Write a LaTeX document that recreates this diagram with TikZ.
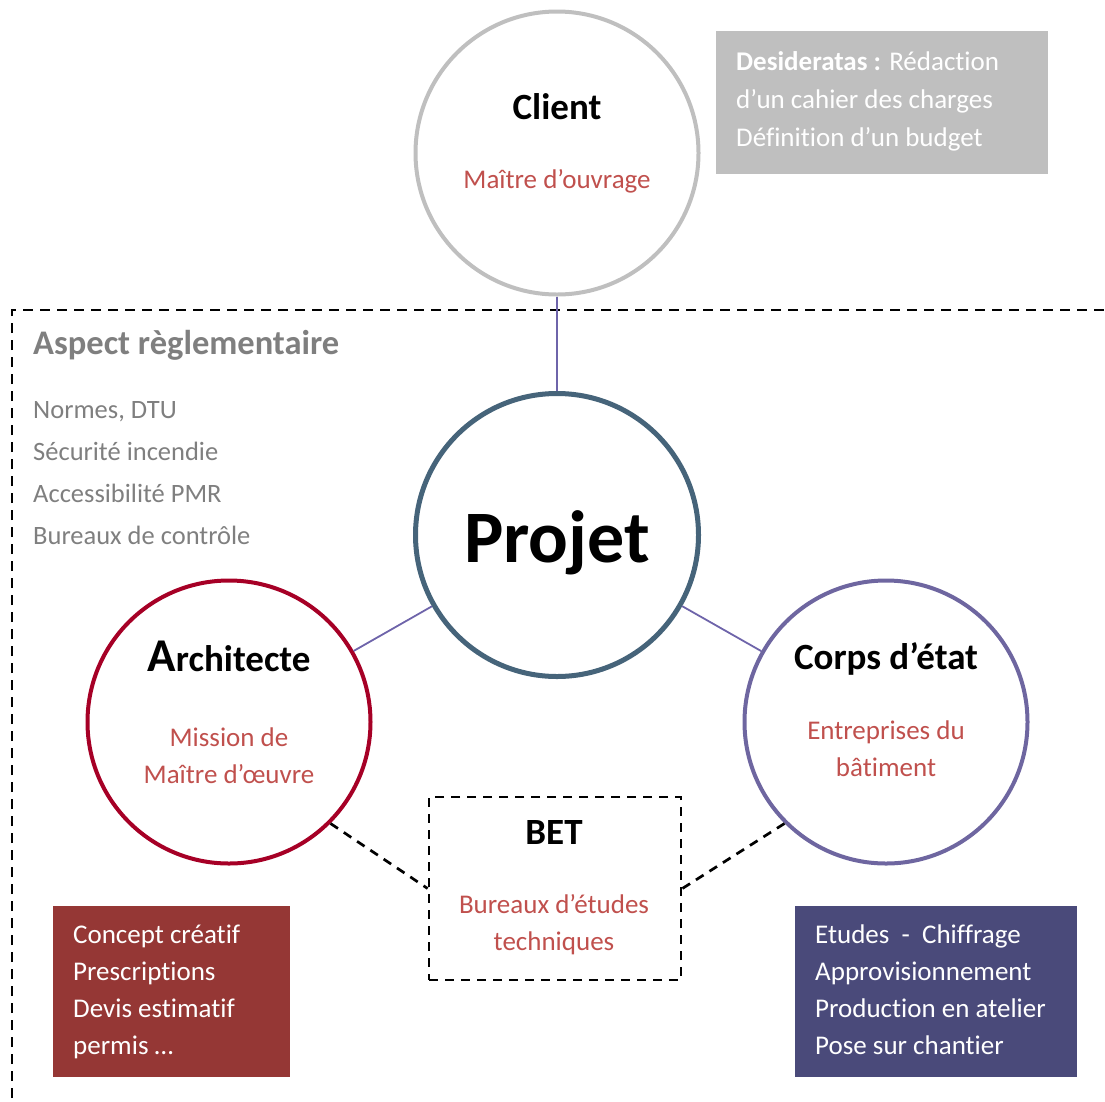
\documentclass[tikz,border=0pt]{standalone}
\usepackage{fontspec}
\setmainfont{Carlito}[RawFeature={-liga;-clig;-calt;-dlig}]
\usetikzlibrary{positioning}

\definecolor{clientc}{RGB}{191,191,191}
\definecolor{projetc}{RGB}{70,100,122}
\definecolor{archc}{RGB}{166,0,38}
\definecolor{corpsc}{RGB}{110,102,160}
\definecolor{linkc}{RGB}{110,100,170}
\definecolor{subred}{RGB}{192,80,77}
\definecolor{redbox}{RGB}{149,55,53}
\definecolor{bluebox}{RGB}{74,74,122}
\definecolor{grayt}{RGB}{127,127,127}

\begin{document}
\begin{tikzpicture}[x=1pt, y=-1pt,
    ring/.style = {draw, circle, line width=4pt, minimum size=283pt, inner sep=0pt},
    link/.style = {draw=linkc, line width=1.8pt},
    betlink/.style = {draw=black, line width=2.7pt, dash pattern=on 9pt off 7pt},
    title/.style = {font=\bfseries\fontsize{37}{37}\selectfont, anchor=base, inner sep=0pt},
    sub/.style = {text=subred, font=\fontsize{27}{37}\selectfont, align=center, anchor=base, inner sep=0pt},
    panel/.style = {anchor=north west, inner sep=0pt},
    list/.style = {anchor=base west, inner sep=0pt, align=left, font=\fontsize{27}{37}\selectfont}]
    \useasboundingbox (0,0) rectangle (1105,1101);
    % regulatory frame
    \draw[dash pattern=on 10pt off 7pt, line width=2.6pt] (12,1115) -- (12,310) -- (1120,310);
    % actors
    \node[ring, draw=clientc] (client) at (557,153) {};
    \node[ring, draw=projetc, line width=5pt] (projet) at (557,535) {};
    \node[ring, draw=archc] (archi) at (229,722) {};
    \node[ring, draw=corpsc] (corps) at (886,722) {};
    \node[draw, dash pattern=on 9pt off 7pt, line width=2.7pt, minimum width=252pt, minimum height=183pt] (bet) at (555,888.5) {};
    \draw[link] (client) -- (projet);
    \draw[link] (projet) -- (archi);
    \draw[link] (projet) -- (corps);
    \draw[betlink] (archi.south east) -- (bet.west);
    \draw[betlink] (corps.south west) -- (bet.east);
    % labels
    \node[title] (clientt) at (557,119) {Client};
    \node[sub] (clients) at (557,188) {Maître d’ouvrage};
    \node[title, font=\bfseries\fontsize{74}{74}\selectfont] (projett) at (557,562) {Projet};
    \node[title] (archit) at (229,671) {{\fontsize{47}{47}\selectfont A}rchitecte};
    \node[sub] (archis) at (229,783) {Mission de\\Maître d’œuvre};
    \node[title] (corpst) at (886,669) {Corps d’état};
    \node[sub] (corpss) at (886,776) {Entreprises du\\bâtiment};
    \node[title] (bett) at (554,844) {BET};
    \node[sub] (bets) at (554,950) {Bureaux d’études\\techniques};
    % regulatory aspect
    \node[list, text=grayt, font=\bfseries\fontsize{34.5}{34.5}\selectfont] (regt) at (33,354) {Aspect règlementaire};
    \node[list, text=grayt, font=\fontsize{26.5}{42}\selectfont] (regl) at (33,544) {Normes, DTU\\Sécurité incendie\\Accessibilité PMR\\Bureaux de contrôle};
    % panels
    \node[panel, fill=clientc, minimum width=332pt, minimum height=143pt] (desi) at (716,31) {};
    \node[list, text=white, font=\fontsize{27}{38}\selectfont] (desit) at (736,146) {\textbf{Desideratas :} Rédaction\\d’un cahier des charges\\Définition d’un budget};
    \node[panel, fill=redbox, minimum width=237pt, minimum height=171pt] (archb) at (53,906) {};
    \node[list, text=white] (archbt) at (73,1054) {Concept créatif\\Prescriptions\\Devis estimatif\\permis …};
    \node[panel, fill=bluebox, minimum width=282pt, minimum height=171pt] (corpsb) at (795,906) {};
    \node[list, text=white] (corpsbt) at (815,1054) {Etudes\ \ -\ \ Chiffrage\\Approvisionnement\\Production en atelier\\Pose sur chantier};
\end{tikzpicture}
\end{document}
